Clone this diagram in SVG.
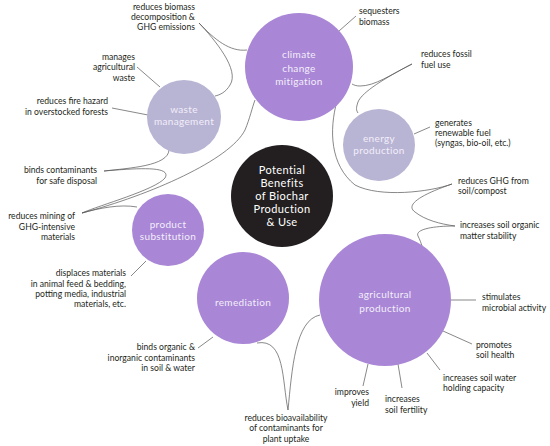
<svg xmlns="http://www.w3.org/2000/svg" width="550" height="446" viewBox="0 0 550 446">
<style>
.p{fill:#A986D6}
.l{fill:#B8B4D4}
.k{fill:#231F20}
.ct{font-family:Lato,"Open Sans","Liberation Sans",sans-serif;font-size:10px;fill:#F3EEFA;text-anchor:middle;letter-spacing:0.35px}
.cc{font-family:Lato,"Open Sans","Liberation Sans",sans-serif;font-size:11px;fill:#FFFFFF;text-anchor:middle;letter-spacing:0.4px}
.t{font-family:Lato,"Open Sans","Liberation Sans",sans-serif;font-size:8.6px;fill:#231F20}
.e{text-anchor:end}
.m{text-anchor:middle}
#connectors path{fill:none;stroke:#555;stroke-width:0.7}
</style>
<rect width="550" height="446" fill="#FFFFFF"/>
<g id="connectors">
<path d="M199,23 C215,40 230,52 247,50"/>
<path d="M199,23 C215,40 240,70 230,85 C226,92 220,95 215,96"/>
<path d="M137,67 L160,87"/>
<path d="M112,108 L148,115"/>
<path d="M356,16 L339,31"/>
<path d="M412,64 C390,75 375,86 360,86 C356,86 354,85 352,84"/>
<path d="M412,64 C385,78 362,92 358,102 C356,108 356,110 358,113"/>
<path d="M430,127 L414,134"/>
<path d="M337,101 C329,130 330,165 355,185 C380,198 430,192 452,184"/>
<path d="M452,184 C420,195 405,205 415,212 C425,220 440,224 455,226"/>
<path d="M455,226 C430,226 415,230 418,236 C420,240 421,243 422,246"/>
<path d="M451,300 L476,300"/>
<path d="M443,331 L472,344"/>
<path d="M427,353 L440,370"/>
<path d="M368,364 L363,386"/>
<path d="M398,364 L402,388"/>
<path d="M257,343 C285,338 282,380 288,410 C292,370 295,320 320,315"/>
<path d="M198,348 L213,337"/>
<path d="M131,276 L146,261"/>
<path d="M104,171 C130,168 168,166 169,150"/>
<path d="M104,171 C140,168 172,166 165,178 C155,190 100,205 82,213"/>
<path d="M82,213 C100,208 120,204 137,207"/>
<path d="M82,213 C150,195 230,160 245,130 C250,118 252,108 255,100"/>
</g>
<g id="climate"><circle class="p" cx="299" cy="67" r="54"/><text class="ct" x="299" y="58">climate</text><text class="ct" x="299" y="72">change</text><text class="ct" x="299" y="85">mitigation</text></g>
<g id="waste"><circle class="l" cx="184" cy="117" r="37"/><text class="ct" x="184" y="113">waste</text><text class="ct" x="184" y="125">management</text></g>
<g id="energy"><circle class="l" cx="379" cy="145" r="36"/><text class="ct" x="379" y="142">energy</text><text class="ct" x="379" y="154">production</text></g>
<g id="center"><circle class="k" cx="282" cy="196" r="51"/><text class="cc" x="282" y="174">Potential</text><text class="cc" x="282" y="187">Benefits</text><text class="cc" x="282" y="200">of Biochar</text><text class="cc" x="282" y="213">Production</text><text class="cc" x="282" y="226">&amp; Use</text></g>
<g id="product"><circle class="p" cx="168" cy="230" r="36"/><text class="ct" x="168" y="228">product</text><text class="ct" x="168" y="240">substitution</text></g>
<g id="remediation"><circle class="p" cx="243" cy="298" r="46"/><text class="ct" x="243" y="306">remediation</text></g>
<g id="agricultural"><circle class="p" cx="385" cy="300" r="66"/><text class="ct" x="385" y="298">agricultural</text><text class="ct" x="385" y="312">production</text></g>
<g id="labels">
<text class="t e"><tspan x="195" y="10">reduces biomass</tspan><tspan x="195" y="20">decomposition &amp;</tspan><tspan x="195" y="30">GHG emissions</tspan></text>
<text class="t e"><tspan x="135" y="60">manages</tspan><tspan x="135" y="70">agricultural</tspan><tspan x="135" y="81">waste</tspan></text>
<text class="t e"><tspan x="108" y="104">reduces fire hazard</tspan><tspan x="108" y="115">in overstocked forests</tspan></text>
<text class="t"><tspan x="359" y="14">sequesters</tspan><tspan x="359" y="25">biomass</tspan></text>
<text class="t"><tspan x="421" y="57">reduces fossil</tspan><tspan x="421" y="68">fuel use</tspan></text>
<text class="t"><tspan x="435" y="126">generates</tspan><tspan x="435" y="136">renewable fuel</tspan><tspan x="435" y="146">(syngas, bio-oil, etc.)</tspan></text>
<text class="t e"><tspan x="97" y="173">binds contaminants</tspan><tspan x="97" y="184">for safe disposal</tspan></text>
<text class="t e"><tspan x="75" y="219">reduces mining of</tspan><tspan x="75" y="230">GHG-intensive</tspan><tspan x="75" y="240">materials</tspan></text>
<text class="t e"><tspan x="126" y="276">displaces materials</tspan><tspan x="126" y="287">in animal feed &amp; bedding,</tspan><tspan x="126" y="297">potting media, industrial</tspan><tspan x="126" y="307">materials, etc.</tspan></text>
<text class="t e"><tspan x="195" y="350">binds organic &amp;</tspan><tspan x="195" y="361">inorganic contaminants</tspan><tspan x="195" y="371">in soil &amp; water</tspan></text>
<text class="t m"><tspan x="286" y="421">reduces bioavailability</tspan><tspan x="286" y="431">of contaminants for</tspan><tspan x="286" y="442">plant uptake</tspan></text>
<text class="t"><tspan x="458" y="184">reduces GHG from</tspan><tspan x="458" y="194">soil/compost</tspan></text>
<text class="t"><tspan x="460" y="228">increases soil organic</tspan><tspan x="460" y="239">matter stability</tspan></text>
<text class="t"><tspan x="482" y="300">stimulates</tspan><tspan x="482" y="311">microbial activity</tspan></text>
<text class="t"><tspan x="476" y="348">promotes</tspan><tspan x="476" y="358">soil health</tspan></text>
<text class="t"><tspan x="443" y="381">increases soil water</tspan><tspan x="443" y="391">holding capacity</tspan></text>
<text class="t e"><tspan x="369" y="395">improves</tspan><tspan x="369" y="406">yield</tspan></text>
<text class="t"><tspan x="385" y="402">increases</tspan><tspan x="385" y="413">soil fertility</tspan></text>
</g>
</svg>
